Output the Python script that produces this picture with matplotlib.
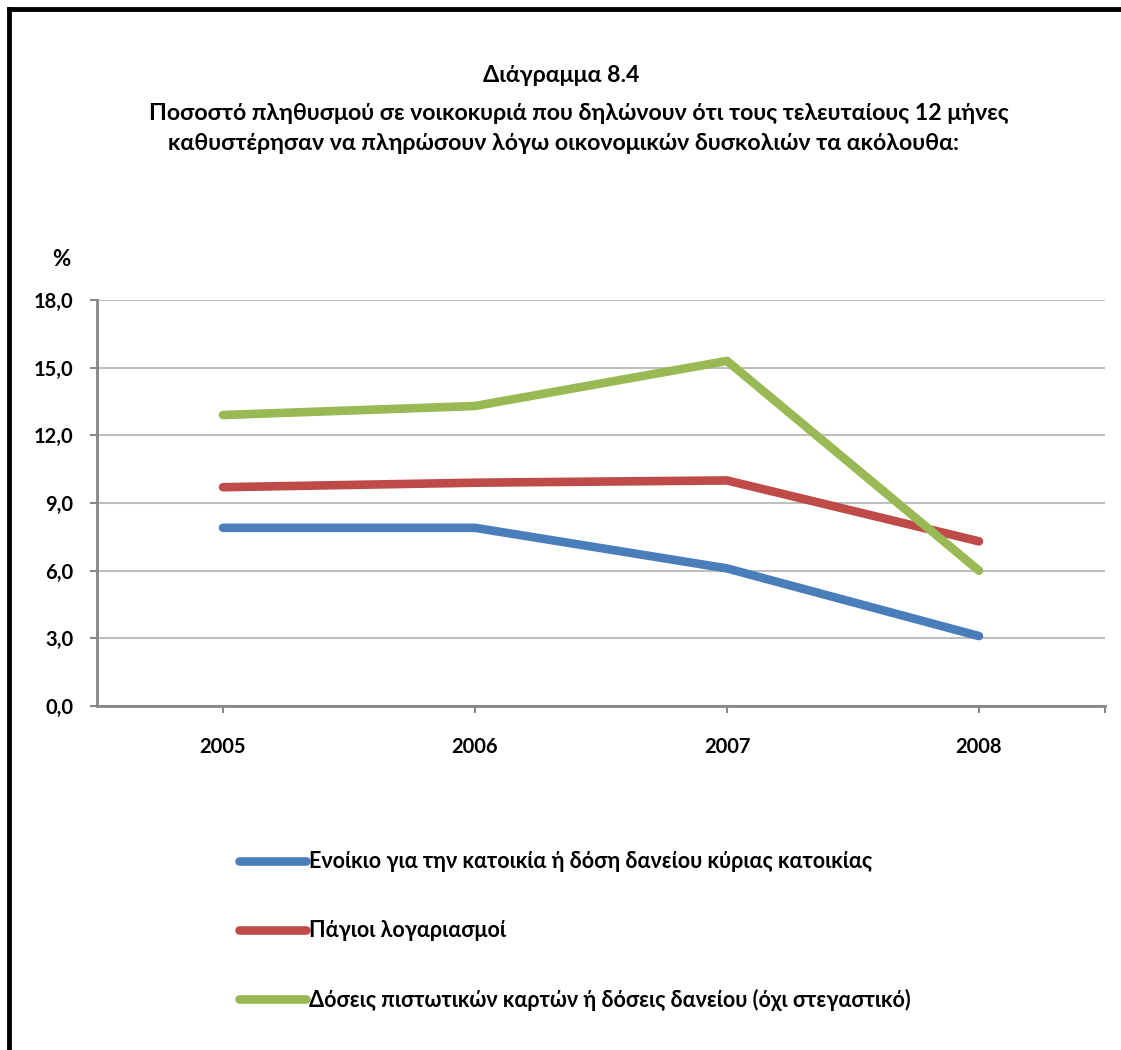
import matplotlib
matplotlib.use('Agg')
import matplotlib.pyplot as plt
from matplotlib.lines import Line2D

plt.rcParams['font.family'] = ['Lato', 'DejaVu Sans']
plt.rcParams['font.weight'] = 'bold'

# data
years = ['2005', '2006', '2007', '2008']
rent_loan = [7.9, 7.9, 6.1, 3.1]
utility_bills = [9.7, 9.9, 10.0, 7.3]
credit_cards = [12.9, 13.3, 15.3, 6.0]

series_labels = ['Ενοίκιο για την κατοικία ή δόση δανείου κύριας κατοικίας',
                 'Πάγιοι λογαριασμοί',
                 'Δόσεις πιστωτικών καρτών ή δόσεις δανείου (όχι στεγαστικό)']
series_colors = ['#4A7EBB', '#BE4B48', '#98B954']
yticks = [0, 3, 6, 9, 12, 15, 18]

W, H = 1121, 1050
fig = plt.figure(figsize=(W / 100, H / 100), dpi=100)
fig.patch.set_facecolor('white')

# outer frame (only top and left visible in the crop)
fig.add_artist(Line2D([9 / W, 1], [1 - 9 / H, 1 - 9 / H], color='black', lw=3.5,
                      transform=fig.transFigure))
fig.add_artist(Line2D([9 / W, 9 / W], [0, 1 - 9 / H], color='black', lw=3.5,
                      transform=fig.transFigure))

ax = fig.add_axes([97 / W, 1 - 706 / H, (1105 - 97) / W, (706 - 300) / H])

x = range(len(years))
for vals, col, lab in zip([rent_loan, utility_bills, credit_cards], series_colors, series_labels):
    ax.plot(x, vals, color=col, lw=6.2, solid_capstyle='round', solid_joinstyle='round',
            label=lab, clip_on=False)

ax.set_xlim(-0.5, 3.5)
ax.set_ylim(0, 18)
ax.set_yticks(yticks)
ax.set_yticklabels([('%.1f' % v).replace('.', ',') for v in yticks])
ax.set_xticks([0, 1, 2, 3, 3.5])
ax.set_xticklabels(years + [''])

ax.grid(axis='y', color='#BEBEBE', lw=1.5)
ax.set_axisbelow(True)
for s in ['top', 'right']:
    ax.spines[s].set_visible(False)
for s in ['left', 'bottom']:
    ax.spines[s].set_color('#868686')
    ax.spines[s].set_linewidth(2)
ax.tick_params(axis='y', length=5, width=1.5, color='#868686', labelsize=14.5, pad=12)
ax.tick_params(axis='x', length=5, width=1.5, color='#868686', labelsize=14.5, pad=17)

fig.text(61 / W, 1 - 260 / H, '%', ha='center', va='center', fontsize=16, fontweight='bold')

title_size = 16.7
fig.text(561 / W, 1 - 75 / H, 'Διάγραμμα 8.4', ha='center', va='center',
         fontsize=title_size, fontweight='bold')
fig.text(579 / W, 1 - 114 / H,
         'Ποσοστό πληθυσμού σε νοικοκυριά που δηλώνουν ότι τους τελευταίους 12 μήνες',
         ha='center', va='center', fontsize=title_size, fontweight='bold')
fig.text(564 / W, 1 - 143 / H,
         'καθυστέρησαν να πληρώσουν λόγω οικονομικών δυσκολιών τα ακόλουθα:',
         ha='center', va='center', fontsize=title_size, fontweight='bold')

fig.legend(loc='upper left', bbox_to_anchor=(220 / W, 1 - 832 / H), frameon=False,
           fontsize=15.5, labelspacing=2.22, handlelength=3.1, handletextpad=0.15)

fig.savefig('out.png', dpi=100, facecolor='white')
